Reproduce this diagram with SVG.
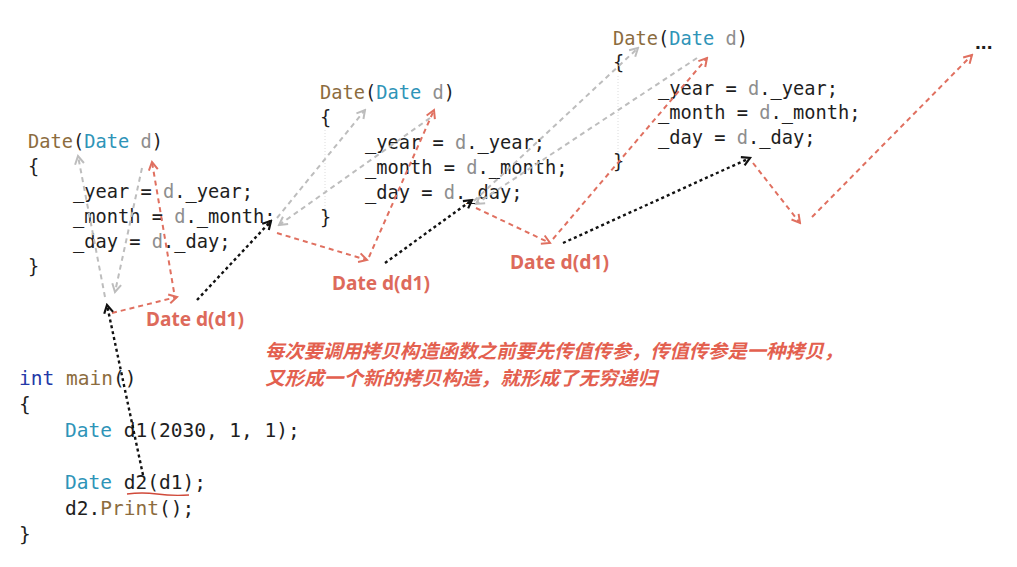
<svg xmlns="http://www.w3.org/2000/svg" width="1017" height="567" viewBox="0 0 1017 567">
<style>
.code{font-family:"DejaVu Sans Mono","Liberation Mono",monospace;font-size:18.7px;fill:#1e1e1e;white-space:pre}
.main{font-size:19.5px}
.fn{fill:#8c6c3e}
.ty{fill:#2e94b8}
.pm{fill:#8e8e8e}
.kw{fill:#2339a8}
.lbl{font-family:"Noto Sans","Liberation Sans",sans-serif;font-weight:bold;font-size:19px;fill:#dd6a5b}
.note{font-family:"Noto Sans CJK SC","Noto Sans",sans-serif;font-weight:bold;font-style:italic;font-size:19px;fill:#e3604f}
.g{stroke:#bdbdbd;stroke-width:2;stroke-dasharray:5 4;fill:none;marker-end:url(#ag)}
.r{stroke:#e07060;stroke-width:2;stroke-dasharray:5 4;fill:none;marker-end:url(#ar)}
.b{stroke:#111;stroke-width:2.4;stroke-dasharray:3 3;fill:none;marker-end:url(#ab)}
.guide{stroke:#dcdcdc;stroke-width:1;stroke-dasharray:1 2}
</style>
<defs>
<marker id="ag" viewBox="0 0 12 12" refX="10" refY="6" markerWidth="12" markerHeight="12" markerUnits="userSpaceOnUse" orient="auto"><path d="M2,1.5 L10,6 L2,10.5" fill="none" stroke="#bdbdbd" stroke-width="2"/></marker>
<marker id="ar" viewBox="0 0 12 12" refX="10" refY="6" markerWidth="12" markerHeight="12" markerUnits="userSpaceOnUse" orient="auto"><path d="M2,1.5 L10,6 L2,10.5" fill="none" stroke="#e07060" stroke-width="2"/></marker>
<marker id="ab" viewBox="0 0 12 12" refX="10" refY="6" markerWidth="12" markerHeight="12" markerUnits="userSpaceOnUse" orient="auto"><path d="M2,1.5 L10,6 L2,10.5" fill="none" stroke="#111" stroke-width="2.2"/></marker>
</defs>
<rect width="1017" height="567" fill="#ffffff"/>

<g id="ctor1" class="code">
<text x="28" y="148"><tspan class="fn">Date</tspan>(<tspan class="ty">Date</tspan> <tspan class="pm">d</tspan>)</text>
<text x="28" y="173">{</text>
<text x="73" y="198">_year = <tspan class="pm">d</tspan>._year;</text>
<text x="73" y="223">_month = <tspan class="pm">d</tspan>._month;</text>
<text x="73" y="248">_day = <tspan class="pm">d</tspan>._day;</text>
<text x="28" y="273">}</text>
</g>

<g id="ctor2" class="code">
<line class="guide" x1="325" y1="130" x2="325" y2="210"/>
<text x="320" y="99"><tspan class="fn">Date</tspan>(<tspan class="ty">Date</tspan> <tspan class="pm">d</tspan>)</text>
<text x="320" y="124">{</text>
<text x="365" y="149">_year = <tspan class="pm">d</tspan>._year;</text>
<text x="365" y="174">_month = <tspan class="pm">d</tspan>._month;</text>
<text x="365" y="199">_day = <tspan class="pm">d</tspan>._day;</text>
<text x="320" y="224">}</text>
</g>

<g id="ctor3" class="code">
<line class="guide" x1="618" y1="76" x2="618" y2="155"/>
<text x="613" y="45"><tspan class="fn">Date</tspan>(<tspan class="ty">Date</tspan> <tspan class="pm">d</tspan>)</text>
<text x="613" y="69">{</text>
<text x="658" y="95">_year = <tspan class="pm">d</tspan>._year;</text>
<text x="658" y="119">_month = <tspan class="pm">d</tspan>._month;</text>
<text x="658" y="144">_day = <tspan class="pm">d</tspan>._day;</text>
<text x="613" y="168">}</text>
</g>

<g id="ellipsis"><text x="975" y="49" style="font-family:'Liberation Sans',sans-serif;font-weight:bold;font-size:21px;fill:#1e1e1e">...</text></g>

<g id="main" class="code main">
<text x="19" y="385"><tspan class="kw">int</tspan> <tspan class="fn">main</tspan>()</text>
<text x="19" y="411">{</text>
<text x="65" y="437"><tspan class="ty">Date</tspan> d1(2030, 1, 1);</text>
<text x="65" y="489"><tspan class="ty">Date</tspan> d2(d1);</text>
<text x="65" y="515">d2.<tspan class="fn">Print</tspan>();</text>
<text x="19" y="541">}</text>
<path d="M127,494 Q142,492 157,494 T189,495" fill="none" stroke="#d04a3a" stroke-width="1.3"/>
</g>

<g id="label1"><text class="lbl" x="146" y="326" textLength="98" lengthAdjust="spacingAndGlyphs">Date d(d1)</text></g>
<g id="label2"><text class="lbl" x="332" y="290" textLength="98" lengthAdjust="spacingAndGlyphs">Date d(d1)</text></g>
<g id="label3"><text class="lbl" x="510" y="269" textLength="99" lengthAdjust="spacingAndGlyphs">Date d(d1)</text></g>

<g id="note">
<text class="note" x="265" y="358" textLength="578" lengthAdjust="spacingAndGlyphs">每次要调用拷贝构造函数之前要先传值传参，传值传参是一种拷贝，</text>
<text class="note" x="265" y="385" textLength="392" lengthAdjust="spacingAndGlyphs">又形成一个新的拷贝构造，就形成了无穷递归</text>
</g>

<g id="connectors">
<line class="g" x1="105" y1="297" x2="78" y2="156"/>
<line class="g" x1="142" y1="168" x2="115" y2="292"/>
<line class="g" x1="277" y1="218" x2="365" y2="110"/>
<line class="g" x1="430" y1="118" x2="279" y2="225"/>
<line class="g" x1="474" y1="201" x2="638" y2="48"/>
<line class="g" x1="697" y1="58" x2="476" y2="204"/>
<line class="r" x1="112" y1="313" x2="177" y2="297"/>
<line class="r" x1="174" y1="292" x2="152" y2="162"/>
<line class="r" x1="277" y1="233" x2="367" y2="260"/>
<line class="r" x1="369" y1="257" x2="434" y2="110"/>
<line class="r" x1="476" y1="208" x2="550" y2="243"/>
<line class="r" x1="553" y1="239" x2="707" y2="58"/>
<line class="r" x1="753" y1="163" x2="800" y2="223"/>
<line class="r" x1="812" y1="217" x2="972" y2="55"/>
<line class="b" x1="143" y1="475" x2="107" y2="305"/>
<line class="b" x1="197" y1="300" x2="271" y2="221"/>
<line class="b" x1="385" y1="263" x2="472" y2="200"/>
<line class="b" x1="563" y1="243" x2="750" y2="158"/>
</g>
</svg>
